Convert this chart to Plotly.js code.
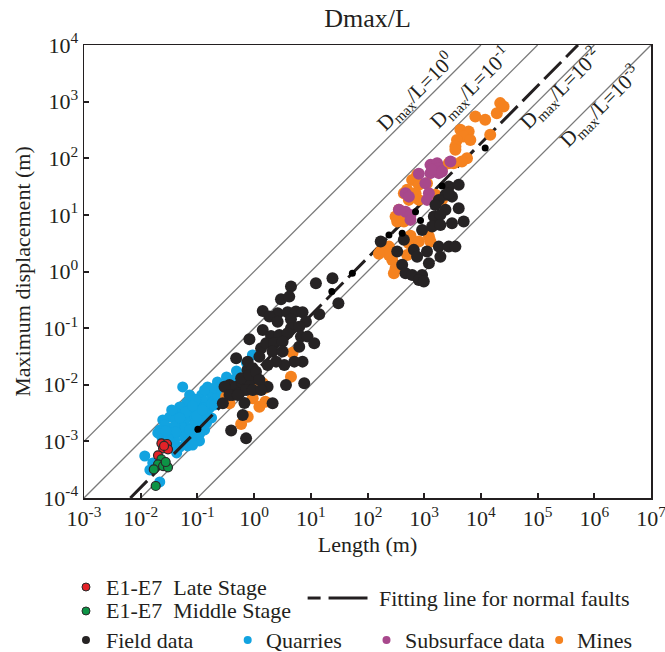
<!DOCTYPE html>
<html>
<head>
<meta charset="utf-8">
<script src="https://cdn.plot.ly/plotly-3.0.1.min.js"></script>
<style>html,body{margin:0;padding:0;background:#fff;}#chart{width:665px;height:652px;}</style>
</head>
<body>
<div id="chart"></div>
<script>
// ---------- data (metres) ----------
var quarryL = [0.0550,0.151,0.226,0.326,0.489,0.246,0.178,0.119,0.0893,0.0646,0.0487,0.0414,0.0325,0.0245,0.0299,0.0235,0.0487,0.0118,0.0431,0.109,0.145,0.0163,0.0217,0.0729,0.101,0.134,0.164,0.109,0.0791,0.0596,0.0449,0.0352,0.0487,0.0673,0.0893,0.123,0.151,0.185,0.226,0.0929,0.0596,0.0397,0.0673,0.0791,0.134,0.105,0.0550,0.0414,0.0265,0.0217,0.0352,0.0729,0.134,0.201,0.340,0.433,0.0929,0.0621,0.129,0.109,0.0824,0.0145,0.732,0.933,0.266,
  0.0200,0.0325,0.0528,0.0397,0.0968,0.0621,0.0487,0.123,0.178,0.201,0.0824,0.0414,0.0299,0.0382,0.178,0.109,0.0729,0.0276];
var quarryD = [0.00914,0.00914,0.0112,0.0137,0.0175,0.00746,0.00660,0.00660,0.00561,0.00477,0.00405,0.00318,0.00270,0.00239,0.00173,0.00120,0.000796,0.000552,0.000624,0.00102,0.00211,0.000415,0.000192,0.00359,0.00440,0.00497,0.00389,0.00318,0.00259,0.00239,0.00203,0.00147,0.00147,0.00173,0.00195,0.00239,0.00292,0.00497,0.00585,0.00147,0.00115,0.00106,0.000830,0.00115,0.00159,0.00220,0.00292,0.00239,0.00195,0.00159,0.00359,0.00660,0.00809,0.00878,0.0103,0.0122,0.00539,0.00147,0.00389,0.00173,0.000863,0.000313,0.0243,0.0336,0.00809,
  0.00141,0.00124,0.00180,0.00187,0.00281,0.00330,0.00259,0.00359,0.00458,0.00440,0.00422,0.00147,0.00115,0.000764,0.00259,0.00135,0.00159,0.00153];

var minesL = [21900,25100,19100,7980,11900,4350,6080,4970,6510,3790,3550,14600,5680,4630,3310,3550,2710,2060,750,613,804,500,438,1120,703,536,804,1580,2060,358,313,438,334,574,536,804,1210,1290,239,171,273,239,313,292,500,159,4.77,4.47,1.42,1.52,0.886,0.945,1.24,1.58,0.772,0.591,0.322,0.368];
var minesD = [941,819,626,545,477,318,296,242,211,211,161,259,100,87.5,81.9,141,81.9,66.8,50.9,41.5,33.9,27.7,24.2,36.3,24.2,18.4,18.4,22.6,18.4,12.3,9.33,7.62,7.62,4.26,3.16,3.38,4.14,3.38,2.75,2.25,1.60,1.96,1.14,0.933,1.96,2.05,0.0369,0.0139,0.0106,0.00867,0.0106,0.00577,0.00410,0.00503,0.00273,0.00203,0.00616,0.00471];

var subsurfaceL = [1290,1690,1810,1290,804,1810,1050,469,536,1210,1120,358,469,574,574,2900,1380,2060];
var subsurfaceD = [76.4,81.9,66.8,54.6,53.0,54.6,36.3,24.2,21.0,24.2,18.4,12.3,11.4,10.0,8.16,87.5,62.4,58.2];

var fieldL = [0.368,0.483,0.623,0.827,0.552,0.676,0.416,0.762,0.394,0.723,4.47,12.3,30.7,2.98,4.17,1.42,2.60,3.90,5.47,7.15,14.1,1.86,2.60,4.47,8.20,1.42,1.99,2.79,4.47,6.25,3.90,6.70,8.75,11.5,0.827,1.33,1.63,2.27,3.18,2.12,3.18,6.25,7.15,5.11,3.41,2.44,1.73,1.24,0.483,0.772,0.945,0.591,0.827,1.08,3.65,7.66,1.24,1.73,2.12,0.723,0.301,0.368,0.515,0.945,1.33,0.281,0.631,24.1,171,2710,4060,2370,3090,1810,1580,2370,4060,4970,1480,1930,918,1380,1930,3090,438,656,1120,1810,2710,3550,334,750,1210,1930,409,469,613,918,804,984,2710];
var fieldD = [0.00991,0.00925,0.0108,0.0113,0.00716,0.00477,0.00660,0.0183,0.00155,0.00113,0.541,0.621,0.275,0.324,0.360,0.201,0.183,0.191,0.196,0.191,0.176,0.160,0.130,0.144,0.130,0.0929,0.0728,0.0759,0.0996,0.106,0.0813,0.0708,0.0708,0.0541,0.0637,0.0442,0.0541,0.0541,0.0577,0.0385,0.0385,0.0471,0.0256,0.0256,0.0224,0.0256,0.0224,0.0313,0.0294,0.0256,0.0196,0.0130,0.0149,0.0170,0.00991,0.0106,0.0122,0.00925,0.00471,0.00809,0.00925,0.00660,0.00660,0.00809,0.00809,0.00471,0.00292,0.762,3.38,31.6,33.9,22.6,21.0,18.4,15.0,12.3,13.1,7.62,9.33,10.0,5.43,6.21,6.65,7.13,3.62,2.41,2.25,2.75,2.75,2.75,2.25,1.83,1.40,1.83,1.31,0.933,0.871,0.871,0.711,0.663,24.2];
// smaller field-data dots lying on the fitting line
var fieldSmallL = [0.102,23.5,54.1,239,2060,11900,703,861,409];
var fieldSmallD = [0.00164,0.442,0.933,4.43,32.5,151,11.4,7.93,4.75];

var lateL = [0.0232,0.0291,0.0248,0.0303,0.0258,0.0202];
var lateD = [0.000925,0.000899,0.000755,0.000725,0.000830,0.000568];
var middleL = [0.0232,0.0202,0.0170,0.0248,0.0303,0.0184,0.0276];
var middleD = [0.000483,0.000394,0.000321,0.000367,0.000348,0.000163,0.000432];

// fitting line for normal faults (end points)
var fitL = [0.00656, 515000];
var fitD = [0.0001, 10000];

// Dmax/L reference ratios
var ratios = [1, 0.1, 0.01, 0.001];
var ratioLabels = ['10<sup>0</sup>', '10<sup>-1</sup>', '10<sup>-2</sup>', '10<sup>-3</sup>'];

// axis ticks
var xTickVals = [1e-3,1e-2,1e-1,1e0,1e1,1e2,1e3,1e4,1e5,1e6,1e7];
var xTickText = ['10<sup>-3</sup>','10<sup>-2</sup>','10<sup>-1</sup>','10<sup>0</sup>','10<sup>1</sup>','10<sup>2</sup>','10<sup>3</sup>','10<sup>4</sup>','10<sup>5</sup>','10<sup>6</sup>','10<sup>7</sup>'];
var yTickVals = [1e-4,1e-3,1e-2,1e-1,1e0,1e1,1e2,1e3,1e4];
var yTickText = ['10<sup>-4</sup>','10<sup>-3</sup>','10<sup>-2</sup>','10<sup>-1</sup>','10<sup>0</sup>','10<sup>1</sup>','10<sup>2</sup>','10<sup>3</sup>','10<sup>4</sup>'];

// ---------- styling ----------
var FONT = 'Liberation Serif';
var INK = '#231f20';
var C_FIELD = '#262324', C_QUARRY = '#12a3e0', C_SUB = '#a8488c', C_MINE = '#f5821f', C_LATE = '#e32228', C_MID = '#0d9446';

var traces = [];
ratios.forEach(function (r) {
  traces.push({x: [1e-4 / r, 1e4 / r], y: [1e-4, 1e4], mode: 'lines', type: 'scatter',
    line: {color: '#7a7a7a', width: 1.3}, hoverinfo: 'skip', showlegend: false});
});
traces.push({x: quarryL, y: quarryD, mode: 'markers', type: 'scatter', name: 'Quarries',
  marker: {color: C_QUARRY, size: 11}, showlegend: false});
traces.push({x: fitL, y: fitD, mode: 'lines', type: 'scatter', name: 'Fitting line for normal faults',
  line: {color: INK, width: 3, dash: '24px,7px'}, showlegend: false});
traces.push({x: minesL, y: minesD, mode: 'markers', type: 'scatter', name: 'Mines',
  marker: {color: C_MINE, size: 12}, showlegend: false});
traces.push({x: subsurfaceL, y: subsurfaceD, mode: 'markers', type: 'scatter', name: 'Subsurface data',
  marker: {color: C_SUB, size: 12}, showlegend: false});
traces.push({x: fieldL, y: fieldD, mode: 'markers', type: 'scatter', name: 'Field data',
  marker: {color: C_FIELD, size: 12}, showlegend: false});
traces.push({x: fieldSmallL, y: fieldSmallD, mode: 'markers', type: 'scatter', name: 'Field data',
  marker: {color: '#000000', size: 7}, showlegend: false});
traces.push({x: lateL, y: lateD, mode: 'markers', type: 'scatter', name: 'E1-E7 Late Stage',
  marker: {color: C_LATE, size: 9, line: {color: '#2a2a2a', width: 1.2}}, showlegend: false});
traces.push({x: middleL, y: middleD, mode: 'markers', type: 'scatter', name: 'E1-E7 Middle Stage',
  marker: {color: C_MID, size: 9, line: {color: '#2a2a2a', width: 1.2}}, showlegend: false});

// ---------- annotations ----------
var annotations = [];
// rotated ratio labels (positions in log units)
var labelPos = [[2.852, 3.173], [3.814, 3.256], [5.395, 3.239], [6.098, 2.913]];
ratios.forEach(function (r, i) {
  annotations.push({x: labelPos[i][0], y: labelPos[i][1], xref: 'x', yref: 'y', showarrow: false,
    text: 'D<sub>max</sub>/L=' + ratioLabels[i], textangle: -44.8,
    font: {family: FONT, size: 21, color: INK}, xanchor: 'center', yanchor: 'middle'});
});

// custom legend below the plot (paper coordinates)
var shapes = [];
function legendDot(xp, yp, color, outline) {
  shapes.push({type: 'circle', xref: 'paper', yref: 'paper', xsizemode: 'pixel', ysizemode: 'pixel',
    xanchor: xp, yanchor: yp, x0: -4, x1: 4, y0: -4, y1: 4,
    fillcolor: color, line: {color: outline ? '#2a2a2a' : color, width: outline ? 1 : 0}});
}
function legendText(xp, yp, txt) {
  annotations.push({x: xp, y: yp, xref: 'paper', yref: 'paper', showarrow: false, text: txt,
    xanchor: 'left', yanchor: 'middle', font: {family: FONT, size: 22, color: INK}});
}
legendDot(0.0035, -0.1965, C_LATE, true);
legendText(0.0352, -0.1965, 'E1-E7\u00a0\u00a0Late Stage');
legendDot(0.0035, -0.2494, C_MID, true);
legendText(0.0352, -0.2494, 'E1-E7\u00a0\u00a0Middle Stage');
shapes.push({type: 'line', xref: 'paper', yref: 'paper', x0: 0.3944, x1: 0.4173, y0: -0.2208, y1: -0.2208, line: {color: INK, width: 3}});
shapes.push({type: 'line', xref: 'paper', yref: 'paper', x0: 0.4313, x1: 0.5, y0: -0.2208, y1: -0.2208, line: {color: INK, width: 3}});
legendText(0.5176, -0.2208, 'Fitting line for normal faults');
legendDot(0.0035, -0.3135, C_FIELD, false);
legendText(0.0352, -0.3135, 'Field data');
legendDot(0.2887, -0.3135, C_QUARRY, false);
legendText(0.3169, -0.3135, 'Quarries');
legendDot(0.5335, -0.3135, C_SUB, false);
legendText(0.5634, -0.3135, 'Subsurface data');
legendDot(0.838, -0.3135, C_MINE, false);
legendText(0.8662, -0.3135, 'Mines');

var axisCommon = {
  type: 'log', showgrid: false, zeroline: false, showline: true, mirror: true,
  linecolor: INK, linewidth: 1.5, ticks: 'inside', ticklen: 5, tickwidth: 2, tickcolor: INK,
  tickmode: 'array', ticklabeloverflow: 'allow', tickfont: {family: FONT, size: 22, color: INK}
};
var layout = {
  width: 665, height: 652,
  margin: {l: 84, r: 14, t: 45, b: 154},
  paper_bgcolor: '#ffffff', plot_bgcolor: '#ffffff',
  showlegend: false,
  font: {family: FONT, color: INK},
  title: {text: 'Dmax/L', font: {family: FONT, size: 26, color: INK}, xref: 'paper', x: 0.5, xanchor: 'center',
    yref: 'container', y: 0.972, yanchor: 'middle'},
  xaxis: Object.assign({}, axisCommon, {range: [-3, 7], tickvals: xTickVals, ticktext: xTickText,
    title: {text: 'Length (m)', font: {family: FONT, size: 22, color: INK}, standoff: 6}}),
  yaxis: Object.assign({}, axisCommon, {range: [-4, 4], tickvals: yTickVals, ticktext: yTickText,
    title: {text: 'Maximum displacement (m)', font: {family: FONT, size: 22, color: INK}, standoff: 6}}),
  annotations: annotations,
  shapes: shapes
};

Plotly.newPlot('chart', traces, layout, {displayModeBar: false, staticPlot: true});
</script>
</body>
</html>
